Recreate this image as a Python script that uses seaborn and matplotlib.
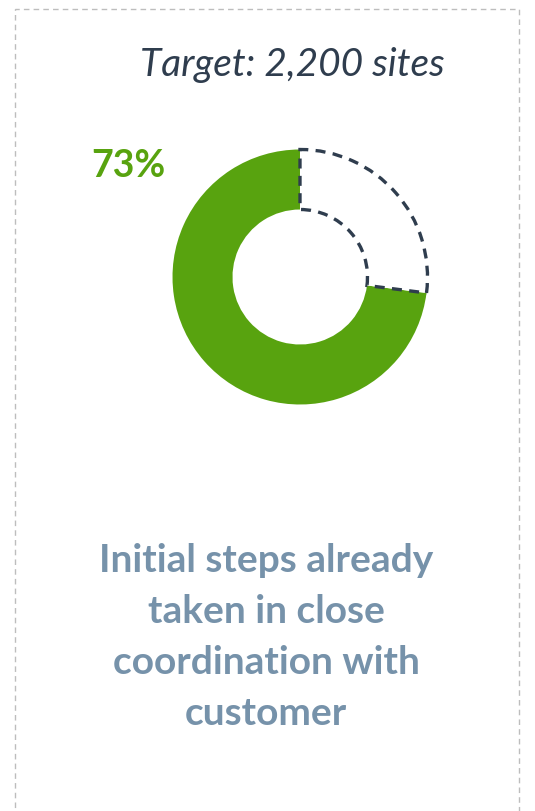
import matplotlib
matplotlib.use("Agg")
import matplotlib.pyplot as plt
from matplotlib.patches import Rectangle
import seaborn as sns

# ---- data ----
segments = ["Completed", "Remaining"]
shares = [73, 27]
pct_label = "73%"
title_text = "Target: 2,200 sites"
caption_lines = ["Initial steps already", "taken in close", "coordination with", "customer"]

GREEN = "#58A30F"
DARK = "#2F3D4E"
CAPTION = "#7692AA"
BORDER = "#BDBDBD"

sns.set_theme(style="white")
plt.rcParams["font.family"] = ["Lato", "DejaVu Sans"]

W, H = 535, 812
fig = plt.figure(figsize=(W / 100, H / 100), dpi=100)
fig.patch.set_facecolor("white")
ax = fig.add_axes([0, 0, 1, 1])

def Y(py):
    return H - py

wedges, _ = ax.pie(
    shares,
    colors=[GREEN, "white"],
    startangle=90,
    counterclock=True,
    center=(300, Y(278)),
    radius=127.5,
    wedgeprops=dict(width=60, linewidth=0),
)
rem = wedges[1]
rem.set_edgecolor(DARK)
rem.set_linewidth(2.4)
rem.set_linestyle((0, (3.0, 2.2)))
rem.set_zorder(5)

ax.set_xlim(0, W)
ax.set_ylim(0, H)
ax.set_aspect("equal")
ax.axis("off")

# dashed outer border
border = Rectangle((15, -20), 504, Y(10) + 20, fill=False, edgecolor=BORDER,
                   linewidth=1.0, linestyle=(0, (4, 3)), zorder=1)
ax.add_patch(border)

ax.text(292, Y(65), title_text, ha="center", va="center", fontsize=28,
        style="italic", color=DARK)
ax.text(128, Y(166), pct_label, ha="center", va="center", fontsize=27,
        fontweight="bold", color=GREEN)

base_y = 572
for i, line in enumerate(caption_lines):
    ax.text(266, Y(base_y + i * 51), line, ha="center", va="baseline",
            fontsize=28, fontweight="bold", color=CAPTION)

fig.savefig("out.png", dpi=100, facecolor="white")
